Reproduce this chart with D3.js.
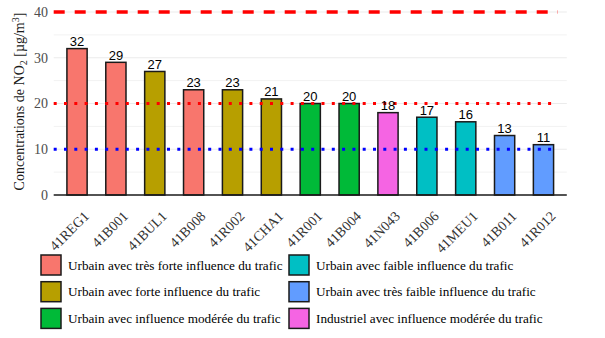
<!DOCTYPE html>
<html>
<head>
<meta charset="utf-8">
<script src="https://cdn.jsdelivr.net/npm/d3@7"></script>
<style>
  body { margin: 0; background: #fff; }
  svg { display: block; }
</style>
</head>
<body>
<svg id="chart" width="605" height="338"></svg>
<script>
// stations, values and station type (index into typeLabels)
const stations = ["41REG1", "41B001", "41BUL1", "41B008", "41R002", "41CHA1", "41R001", "41B004", "41N043", "41B006", "41MEU1", "41B011", "41R012"];
const values = [32, 29, 27, 23, 23, 21, 20, 20, 18, 17, 16, 13, 11];
const stationTypes = [0, 0, 1, 0, 1, 1, 2, 2, 5, 3, 3, 4, 4];
const typeLabels = [
  "Urbain avec très forte influence du trafic",
  "Urbain avec forte influence du trafic",
  "Urbain avec influence modérée du trafic",
  "Urbain avec faible influence du trafic",
  "Urbain avec très faible influence du trafic",
  "Industriel avec influence modérée du trafic"
];
const typeColors = ["#F8766D", "#B79F00", "#00BA38", "#00BFC4", "#619CFF", "#F564E3"];
const yTicks = [0, 10, 20, 30, 40];
const refLines = [40, 20, 10];

const svg = d3.select("#chart");
const serif = "'Liberation Serif', serif";

const x = d3.scaleBand()
  .domain(stations)
  .range([53.7, 566.8])
  .paddingInner(0.48)
  .paddingOuter(0.34);

const y = d3.scaleLinear()
  .domain([0, 40])
  .range([195, 12]);

const left = 53.7, right = 566.8;

// grid
svg.selectAll("line.minor")
  .data([5, 15, 25, 35])
  .join("line")
    .attr("x1", left).attr("x2", right)
    .attr("y1", d => y(d)).attr("y2", d => y(d))
    .attr("stroke", "#f2f2f2").attr("stroke-width", 1);

svg.selectAll("line.major")
  .data(yTicks.slice(1))
  .join("line")
    .attr("x1", left).attr("x2", right)
    .attr("y1", d => y(d)).attr("y2", d => y(d))
    .attr("stroke", "#ebebeb").attr("stroke-width", 1.2);

// y tick labels
svg.selectAll("text.ytick")
  .data(yTicks)
  .join("text")
    .attr("x", 48)
    .attr("y", d => y(d))
    .attr("dy", "0.35em")
    .attr("text-anchor", "end")
    .attr("font-family", serif)
    .attr("font-size", 14)
    .attr("fill", "#4d4d4d")
    .text(d => d);

// y title
const title = svg.append("text")
  .attr("transform", `translate(24,${(y(0) + y(40)) / 2 - 2}) rotate(-90)`)
  .attr("text-anchor", "middle")
  .attr("font-family", serif)
  .attr("font-size", 14)
  .attr("fill", "#1a1a1a");
title.append("tspan").text("Concentrations de NO");
title.append("tspan").attr("font-size", 10).attr("dy", 3).text("2");
title.append("tspan").attr("dy", -3).text(" [µg/m");
title.append("tspan").attr("font-size", 10).attr("dy", -5).text("3");
title.append("tspan").attr("dy", 5).text("]");

// bars
svg.selectAll("rect.bar")
  .data(stations)
  .join("rect")
    .attr("x", d => x(d))
    .attr("y", (d, i) => y(values[i]))
    .attr("width", x.bandwidth())
    .attr("height", (d, i) => y(0) - y(values[i]))
    .attr("fill", (d, i) => typeColors[stationTypes[i]])
    .attr("stroke", "#1a1a1a")
    .attr("stroke-width", 1.5);

// reference lines
svg.append("line")
  .attr("x1", left).attr("x2", 558)
  .attr("y1", y(40)).attr("y2", y(40))
  .attr("stroke", "#ff0000").attr("stroke-width", 3.5)
  .attr("stroke-dasharray", "11,10");

svg.selectAll("line.dot")
  .data(refLines.slice(1))
  .join("line")
    .attr("x1", left).attr("x2", 558)
    .attr("y1", d => y(d)).attr("y2", d => y(d))
    .attr("stroke", d => d === 20 ? "#ff0000" : "#0000ff")
    .attr("stroke-width", 3)
    .attr("stroke-dasharray", "3,7.3");

// bottom axis line
svg.append("line")
  .attr("x1", left).attr("x2", right)
  .attr("y1", y(0)).attr("y2", y(0))
  .attr("stroke", "#1a1a1a").attr("stroke-width", 1.5);

// value labels
svg.selectAll("text.val")
  .data(stations)
  .join("text")
    .attr("x", d => x(d) + x.bandwidth() / 2)
    .attr("y", (d, i) => y(values[i]) - 2.5)
    .attr("text-anchor", "middle")
    .attr("font-family", "'Liberation Sans', Arial, sans-serif")
    .attr("font-size", 13)
    .attr("fill", "#000")
    .text((d, i) => values[i]);

// x labels
svg.selectAll("text.xlab")
  .data(stations)
  .join("text")
    .attr("transform", d => `translate(${x(d) + x.bandwidth() / 2 + 6},${210}) rotate(-45)`)
    .attr("text-anchor", "end")
    .attr("dy", "0.7em")
    .attr("font-family", serif)
    .attr("font-size", 14)
    .attr("fill", "#333")
    .text(d => d);

// legend
const legend = svg.append("g");
typeLabels.forEach((label, i) => {
  const col = Math.floor(i / 3), row = i % 3;
  const gx = col === 0 ? 41 : 289;
  const gy = 255 + row * 26.7;
  legend.append("rect")
    .attr("x", gx).attr("y", gy)
    .attr("width", 20).attr("height", 20)
    .attr("fill", typeColors[i])
    .attr("stroke", "#1a1a1a")
    .attr("stroke-width", 1.5);
  legend.append("text")
    .attr("x", gx + 27).attr("y", gy + 10)
    .attr("dy", "0.35em")
    .attr("font-family", serif)
    .attr("font-size", 13.2)
    .attr("fill", "#000")
    .text(label);
});
</script>
</body>
</html>
